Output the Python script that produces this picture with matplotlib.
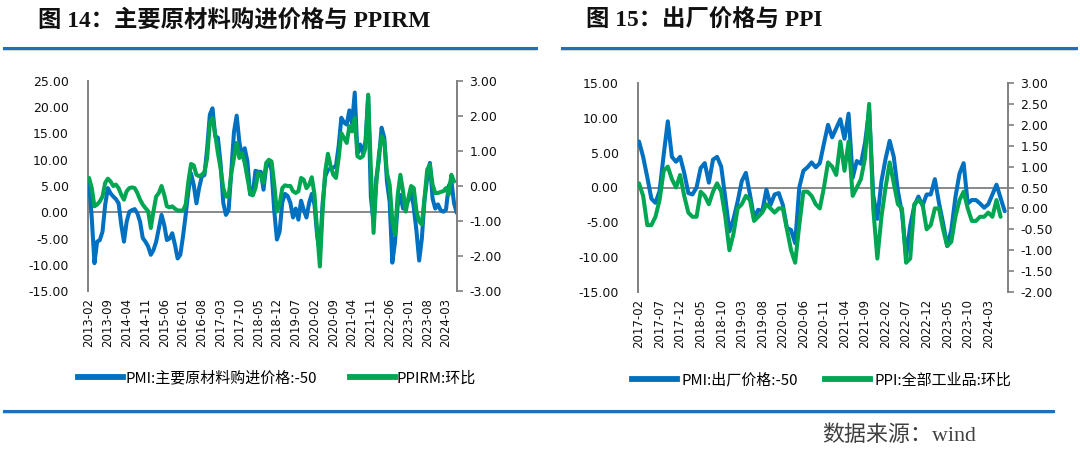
import numpy as np
import pandas as pd
import matplotlib
matplotlib.use("Agg")
import matplotlib.pyplot as plt
from matplotlib.lines import Line2D
from matplotlib.ticker import FormatStrFormatter

plt.rcParams['font.family'] = ['DejaVu Sans', 'Noto Sans CJK SC']
plt.rcParams['axes.unicode_minus'] = True

# ---------------- data ----------------
left_start = "2013-02"
left_tick_labels = ["2013-02", "2013-09", "2014-04", "2014-11", "2015-06", "2016-01",
                    "2016-08", "2017-03", "2017-10", "2018-05", "2018-12", "2019-07",
                    "2020-02", "2020-09", "2021-04", "2021-11", "2022-06", "2023-01",
                    "2023-08", "2024-03"]
# PMI: 主要原材料购进价格 - 50 (2013-02 .. 2024-07)
pmi_input_price = [
    5.9, -1.1, -9.7, -5.6, -5.3, -3.7, 1.4, 4.6, 3.6, 3.0, 2.5, 1.7,
    -2.4, -5.6, -1.8, 0.1, 0.4, 0.6, -0.2, -1.8, -4.9, -5.6, -6.5, -8.1,
    -7.2, -5.6, -3.0, -0.5, -2.4, -5.3, -5.0, -4.0, -6.2, -8.8, -8.1, -4.6,
    -0.5, 4.0, 7.4, 5.2, 1.7, 4.6, 6.8, 7.1, 12.2, 18.6, 19.8,
    14.5, 14.2, 9.3, 1.8, -0.5, 0.4, 7.9, 15.3, 18.4, 13.4, 10.6, 12.2,
    9.7, 3.4, 3.4, 7.9, 7.7, 7.7, 4.3, 8.7, 9.5, 8.0, 0.3, -5.2,
    -3.7, 1.9, 3.5, 3.1, 1.8, -1.0, 0.7, -1.4, 2.2, 0.4, -1.0, 1.8,
    3.5, 1.4, -4.5, -7.5, 1.6, 6.8, 8.1, 8.3, 8.5, 8.8, 12.6, 18.0,
    17.1, 16.7, 19.4, 16.9, 22.8, 11.2, 12.9, 11.3, 13.5, 22.1, 2.9, -1.9,
    6.4, 10.0, 16.1, 14.2, 5.8, 2.0, -9.6, -5.7, 1.3, 3.3, 0.7, 1.6,
    2.2, 4.4, 0.9, -3.6, -9.2, -5.0, 2.4, 6.5, 9.4, 2.6, 0.7, 1.5,
    0.4, 0.1, 0.5, 5.0, 6.0, 1.7, -0.1]
# PPIRM: 环比 (2013-02 .. 2024-06)
ppirm_mom = [
    0.23, -0.06, -0.58, -0.53, -0.44, -0.30, 0.09, 0.21, 0.13, 0.00, 0.04, -0.06,
    -0.25, -0.39, -0.15, -0.06, -0.04, -0.06, -0.20, -0.39, -0.53, -0.63, -0.72, -1.20,
    -0.72, -0.30, -0.20, 0.00, -0.25, -0.58, -0.61, -0.58, -0.65, -0.70, -0.70, -0.70,
    -0.53, 0.13, 0.63, 0.59, 0.32, 0.28, 0.32, 0.40, 0.80, 1.80, 1.94,
    1.47, 0.94, 0.51, -0.06, -0.30, -0.30, 0.37, 0.80, 1.23, 0.80, 0.94, 0.66,
    0.23, -0.20, -0.27, -0.06, 0.37, 0.32, 0.09, 0.66, 0.75, 0.70, 0.04, -0.73,
    -0.53, -0.06, 0.02, 0.00, 0.00, -0.15, -0.20, -0.15, 0.23, 0.18, -0.06, 0.04,
    0.25, -0.25, -1.30, -2.30, -0.73, 0.42, 0.92, 0.57, 0.32, 0.23, 0.80, 1.51,
    1.37, 1.23, 1.71, 1.56, 1.94, 0.85, 0.80, 0.85, 1.09, 2.61, 0.51, -1.34,
    0.04, 0.90, 1.42, 1.28, 0.37, 0.04, -1.01, -1.39, -0.25, 0.32, -0.15, -0.73,
    -0.34, 0.00, -0.06, -0.73, -1.01, -1.10, -0.34, 0.47, 0.61, 0.04, -0.20, -0.20,
    -0.17, -0.15, -0.06, -0.25, 0.32, 0.13]

right_start = "2017-02"
right_tick_labels = ["2017-02", "2017-07", "2017-12", "2018-05", "2018-10", "2019-03",
                     "2019-08", "2020-01", "2020-06", "2020-11", "2021-04", "2021-09",
                     "2022-02", "2022-07", "2022-12", "2023-05", "2023-10", "2024-03"]
# PMI: 出厂价格 - 50 (2017-02 .. 2024-07)
pmi_output_price = [
    6.6, 4.4, 1.5, -1.6, -2.2, -0.5, 4.7, 9.5, 4.4, 3.7, 4.4, 2.1,
    -0.8, -1.0, 0.0, 2.8, 3.5, 0.7, 4.0, 4.4, 3.0, -1.5, -6.3, -4.5,
    -2.0, 0.9, 2.1, -1.0, -4.4, -3.2, -3.4, -0.3, -2.5, -1.0, -0.8, -2.5,
    -5.8, -6.1, -8.0, 0.0, 2.4, 2.9, 3.6, 2.9, 3.5, 6.3, 9.0,
    7.2, 8.5, 9.8, 7.0, 10.6, 1.4, 3.8, 3.4, 6.4, 11.1, -1.1, -4.5,
    0.9, 4.1, 6.7, 4.4, -0.5, -3.7, -9.9, -5.5, -2.6, -1.3, -2.6, -1.0,
    -1.0, 1.2, -2.2, -5.1, -8.4, -6.1, -1.4, 2.0, 3.5, -2.3, -1.8, -1.8,
    -2.3, -2.9, -2.4, -1.0, 0.4, -1.5, -3.4]
# PPI: 全部工业品: 环比 (2017-02 .. 2024-06)
ppi_mom = [
    0.6, 0.3, -0.4, -0.4, -0.2, 0.2, 0.9, 1.0, 0.7, 0.5, 0.8,
    0.3, -0.1, -0.2, -0.2, 0.4, 0.3, 0.1, 0.4, 0.6, 0.4, -0.2, -1.0,
    -0.6, 0.0, 0.1, 0.3, 0.2, -0.3, -0.2, -0.1, 0.1, 0.0, -0.1, 0.0,
    0.0, -0.5, -1.0, -1.3, -0.4, 0.4, 0.4, 0.3, 0.1, 0.0, 0.5, 1.1,
    1.0, 0.8, 1.6, 0.9, 1.6, 0.3, 0.5, 0.7, 1.2, 2.5, 0.0, -1.2,
    -0.2, 0.5, 1.1, 0.6, 0.1, 0.0, -1.3, -1.2, 0.1, 0.2, 0.1, -0.5,
    -0.4, 0.0, 0.0, -0.5, -0.9, -0.8, -0.2, 0.2, 0.4, 0.0, -0.3, -0.3,
    -0.2, -0.2, -0.1, -0.2, 0.2, -0.2]

left_legend = ["PMI:主要原材料购进价格:-50", "PPIRM:环比"]
right_legend = ["PMI:出厂价格:-50", "PPI:全部工业品:环比"]
title_left = "图 14：主要原材料购进价格与 PPIRM"
title_right = "图 15：出厂价格与 PPI"
source_text = "数据来源：wind"

BLUE = "#0070C0"
GREEN = "#00A651"
GRAY = "#808080"
CJK = ['Noto Sans CJK SC', 'DejaVu Sans']

W, H = 1080, 472
fig = plt.figure(figsize=(W / 100, H / 100), dpi=100)


def fx(px):
    return px / W


def fy(py):
    return 1 - py / H


def make_panel(rect, start, blue, green, tick_labels, ylim_l, ystep_l, ylim_r, ystep_r, xlim):
    ax = fig.add_axes(rect)
    axr = ax.twinx()
    months = pd.period_range(start=start, periods=len(blue), freq="M").strftime("%Y-%m").tolist()
    xb = np.arange(len(blue))
    xg = np.arange(len(green))
    ax.axhline(0, color=GRAY, lw=1.3, zorder=1)
    ax.plot(xb, blue, color=BLUE, lw=2.9, solid_joinstyle='round', solid_capstyle='round', zorder=3)
    axr.plot(xg, green, color=GREEN, lw=2.9, solid_joinstyle='round', solid_capstyle='round', zorder=3)
    ax.set_xlim(*xlim)
    ax.set_ylim(*ylim_l)
    axr.set_ylim(*ylim_r)
    ax.set_yticks(np.arange(ylim_l[0], ylim_l[1] + 0.001, ystep_l))
    axr.set_yticks(np.arange(ylim_r[0], ylim_r[1] + 0.001, ystep_r))
    ax.yaxis.set_major_formatter(FormatStrFormatter('%.2f'))
    axr.yaxis.set_major_formatter(FormatStrFormatter('%.2f'))
    ax.set_xticks([months.index(t) for t in tick_labels])
    ax.set_xticklabels(tick_labels, rotation=90, fontsize=8.5)
    for a in (ax, axr):
        for s in ('top', 'bottom'):
            a.spines[s].set_visible(False)
    ax.spines['right'].set_visible(False)
    axr.spines['left'].set_visible(False)
    ax.spines['left'].set_color(GRAY)
    ax.spines['left'].set_linewidth(1.4)
    axr.spines['right'].set_color(GRAY)
    axr.spines['right'].set_linewidth(1.4)
    ax.tick_params(axis='y', length=0, pad=14, labelsize=9, colors='#111111')
    axr.tick_params(axis='y', length=4, width=1.2, color=GRAY, pad=5, labelsize=9, labelcolor='#111111')
    ax.tick_params(axis='x', length=0, pad=5, colors='#111111')
    ax.patch.set_visible(False)
    return ax, axr


axL, axLr = make_panel([fx(88), fy(291), fx(369), 210 / H], left_start, pmi_input_price, ppirm_mom,
                       left_tick_labels, (-15, 25), 5, (-3, 3), 1, (-0.4, 137.1))
axR, axRr = make_panel([fx(638), fy(292), fx(370), 209 / H], right_start, pmi_output_price, ppi_mom,
                       right_tick_labels, (-15, 15), 5, (-2, 3), 0.5, (-0.25, 89.8))

# legends
hb = Line2D([], [], color=BLUE, lw=4.2)
hg = Line2D([], [], color=GREEN, lw=4.2)
fig.legend([hb, hg], left_legend, loc='center left', bbox_to_anchor=(fx(78), fy(378)),
           ncol=2, frameon=False, prop={'family': CJK, 'size': 10.8}, handlelength=3.0,
           handletextpad=0.15, columnspacing=2.2, borderpad=0, borderaxespad=0)
fig.legend([hb, hg], right_legend, loc='center left', bbox_to_anchor=(fx(632), fy(380)),
           ncol=2, frameon=False, prop={'family': CJK, 'size': 10.8}, handlelength=3.0,
           handletextpad=0.3, columnspacing=1.8, borderpad=0, borderaxespad=0)

# titles
TFONT = ['Liberation Serif', 'Noto Sans CJK SC']
fig.text(fx(38), fy(21), title_left, family=TFONT, fontweight='bold', fontsize=16.8,
         va='center', ha='left', color='#111111')
fig.text(fx(586), fy(21), title_right, family=TFONT, fontweight='bold', fontsize=16.8,
         va='center', ha='left', color='#111111')

# decorative rules
for x0, x1, y in [(4, 536, 48), (562, 1076, 48), (4, 1053, 411)]:
    fig.add_artist(Line2D([fx(x0), fx(x1)], [fy(y + 2), fy(y + 2)], color='#D9D9D9', lw=1.5))
    fig.add_artist(Line2D([fx(x0), fx(x1)], [fy(y), fy(y)], color='#1F6FBF', lw=2.2))

fig.text(fx(822), fy(436), source_text, family=['Liberation Serif', 'Noto Sans CJK SC'],
         fontsize=15.8, va='center', ha='left', color='#404040')

fig.savefig("out.png", dpi=100)
